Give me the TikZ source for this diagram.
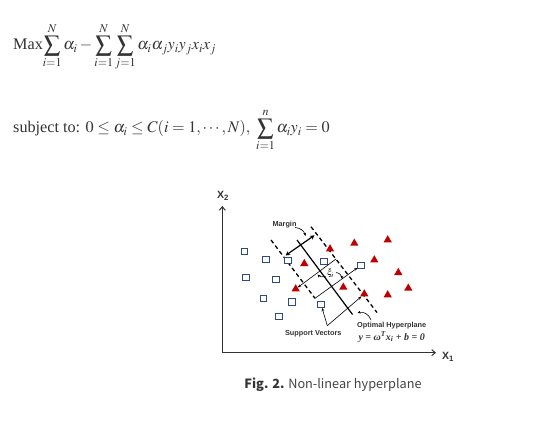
\documentclass[tikz,border=0pt]{standalone}
\usepackage{mathptmx}
\usepackage{fontspec}
\setmainfont{Liberation Serif}
\setsansfont{Liberation Sans}
\newfontfamily\capfont{Noto Sans CJK KR}
\usetikzlibrary{shapes.geometric,arrows.meta}
\definecolor{sqblue}{HTML}{2E4A80}
\definecolor{trired}{HTML}{C00000}
\definecolor{txtgray}{HTML}{333333}
\definecolor{capgray}{HTML}{444444}
\begin{document}
\begin{tikzpicture}[x=1pt,y=-1pt,
  sq/.style={draw=sqblue, fill=white, line width=0.9pt, minimum size=6.5pt, inner sep=0pt},
  tri/.style={regular polygon, regular polygon sides=3, fill=trired, inner sep=0pt, minimum size=9.6pt},
  axis/.style={line width=1pt, draw=txtgray, -{Straight Barb[length=3.5pt,width=6pt]}},
  marg/.style={line width=1.3pt, dash pattern=on 4pt off 3pt},
  pointer/.style={line width=0.6pt, -{Stealth[length=3.2pt,width=2.8pt]}},
  lab/.style={font=\sffamily\bfseries\fontsize{7.3}{8}\selectfont, text=txtgray, inner sep=0pt},
  axlab/.style={font=\sffamily\bfseries\fontsize{10.5}{12}\selectfont, text=txtgray, inner sep=0pt},
  eq/.style={font=\fontsize{16.2}{19}\selectfont, text=txtgray, inner sep=0pt},
  beq/.style={font=\fontsize{10}{11}\selectfont\bfseries\itshape, text=txtgray, inner sep=0pt}]
\path[use as bounding box, fill=white] (0,0) rectangle (546,435);

% equations
\node[eq, anchor=base west] (eq1) at (13,50) {Max$\displaystyle\sum_{i=1}^{N}\alpha_i-\sum_{i=1}^{N}\sum_{j=1}^{N}\alpha_i\alpha_j y_i y_j x_i x_j$};
\node[eq, anchor=base west] (eq2) at (13,133) {subject to: $0\le\alpha_i\le C(i=1,\cdots,N),\ \displaystyle\sum_{i=1}^{n}\alpha_i y_i=0$};

% axes
\coordinate (o) at (222.3,352.7);
\coordinate (ytop) at (222.3,206);
\coordinate (xend) at (436,352.7);
\draw[axis] (o) -- (ytop);
\draw[axis] (o) -- (xend);
\node[axlab] (x2) at (223,196) {X\textsubscript{2}};
\node[axlab] (x1) at (448,357) {X\textsubscript{1}};

% margin lines
\coordinate (la) at (271,240);  \coordinate (lb) at (315,298.3);
\coordinate (ha) at (297,240);  \coordinate (hb) at (352.5,314.5);
\coordinate (ra) at (311,226.7); \coordinate (rb) at (377,312.5);
\draw[marg] (la) -- (lb);
\draw[marg] (ra) -- (rb);
\draw[line width=1.2pt] (ha) -- (hb);

% squares
\foreach \n/\p in {1/{244.3,251.7},2/{265.7,259.3},3/{287.7,260.3},4/{324,261.7},5/{361,265.3},6/{246,277.7},7/{276,279.3},8/{263.3,298.7},9/{292,302},10/{321,304.3},11/{279,316.3}}
  \node[sq] (s\n) at (\p) {};
% triangles
\foreach \n/\p in {1/{330,249},2/{354.3,243.3},3/{387.7,240},4/{304.3,263.7},5/{374.3,260},6/{398.3,272.7},7/{295.7,289},8/{343.3,287.3},9/{364.3,294},10/{387.7,295},11/{408.3,288.3}}
  \node[tri] (t\n) at (\p) {};

% margin arrow
\coordinate (ma) at (285.5,255.5);
\coordinate (mb) at (314.5,235.3);
\draw[line width=1.2pt, {Stealth[length=4.5pt,width=4.5pt]}-{Stealth[length=4.5pt,width=4.5pt]}] (ma) -- (mb);
\node[lab] (margin) at (284.5,224.5) {Margin};
\coordinate (mc1) at (295,227.5);
\coordinate (mc2) at (305.5,236);
\draw[pointer] (mc1) to[bend left=35] (mc2);

% slack arrows
\coordinate (sl1) at (336,259);
\draw[pointer] (sl1) -- (t7);
\draw[pointer] (lb) -- (s5);
\node[font=\fontsize{9}{10}\selectfont, inner sep=0pt] (xi) at (330.5,273.5) {$\xi_i$};
\coordinate (xr1) at (336,272.5);
\coordinate (xr2) at (342,279);
\draw[pointer] (xr1) to[bend left=40] (xr2);
\coordinate (xl1) at (325.5,276.5);
\coordinate (xl2) at (317.5,274.5);
\draw[pointer] (xl1) to[bend left=30] (xl2);

% support vectors
\coordinate (sv) at (327.3,325.7);
\draw[pointer] (sv) -- (s10);
\draw[pointer] (sv) -- (t9);
\node[lab] (svl) at (313.3,333.5) {Support Vectors};

% optimal hyperplane
\node[lab] (ohl) at (391.7,326) {Optimal Hyperplane};
\node[beq] (ohe) at (391.7,337) {y = ω\textsuperscript{T}x\textsubscript{i} + b = 0};
\coordinate (oc1) at (371,320);
\coordinate (oc2) at (357.5,313);
\draw[pointer] (oc1) to[bend right=45] (oc2);

% caption
\node[font=\capfont\fontsize{12.7}{15}\selectfont, text=capgray, inner sep=0pt] (cap) at (333,385) {\textcolor{txtgray}{\bfseries Fig. 2.} Non-linear hyperplane};
\end{tikzpicture}
\end{document}
